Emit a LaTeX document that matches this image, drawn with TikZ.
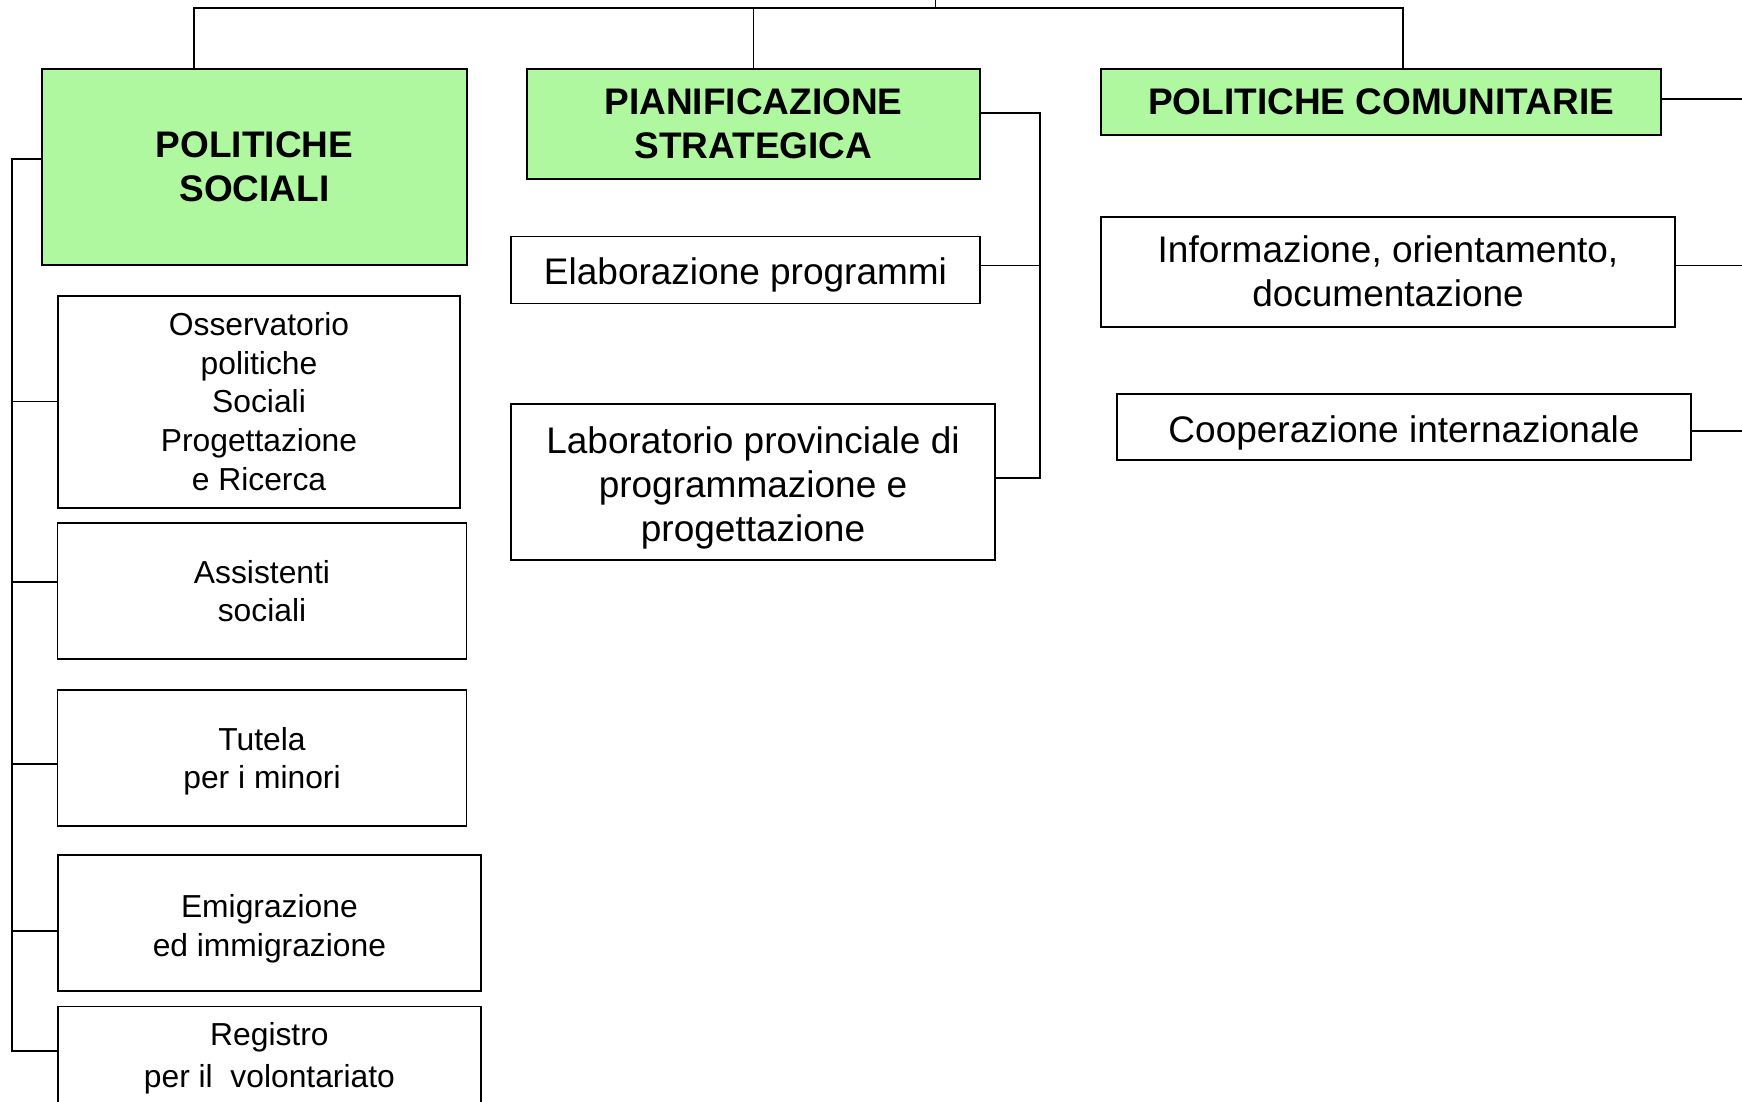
\documentclass[tikz,border=0pt]{standalone}
\usepackage{fontspec}
\setmainfont{Liberation Sans}
\usepackage{xcolor}
\usepackage{tikz}
\definecolor{headgreen}{RGB}{176,248,160}
\newcommand\strutto[1]{\rule{0pt}{#1}} % taller first line, pushes the text down
\tikzset{
  unit/.style={draw, line width=1.8pt, inner sep=0pt, align=center, font=\fontsize{37}{44}\selectfont},
  head/.style={unit, fill=headgreen, font=\fontsize{37}{44}\selectfont\bfseries},
  office/.style={unit, font=\fontsize{31.8}{38.6}\selectfont},
  link/.style={line width=1.6pt}
}

\begin{document}
\begin{tikzpicture}[x=1pt,y=-1pt]
        \useasboundingbox (0,0) rectangle (1742,1102); % page size of the reference
        % the three sectors
        \node[head, minimum width=425pt, minimum height=196pt] (sociali) at (254.5,167) {POLITICHE\\SOCIALI};
        \node[head, minimum width=453pt, minimum height=110pt] (pianif) at (753.5,124) {PIANIFICAZIONE\\STRATEGICA};
        \node[head, minimum width=560pt, minimum height=66pt] (comunit) at (1381,102) {POLITICHE COMUNITARIE};
        % offices
        \node[unit, minimum width=469pt, minimum height=67pt] (elab) at (745.5,270) {\strutto{36pt}Elaborazione programmi};
        \node[unit, minimum width=484pt, minimum height=156pt] (lab) at (753,482) {\strutto{38pt}Laboratorio provinciale di\\programmazione e\\progettazione};
        \node[unit, minimum width=574pt, minimum height=110pt] (info) at (1388,271.6) {Informazione, orientamento,\\documentazione};
        \node[unit, minimum width=574pt, minimum height=66pt] (coop) at (1404,427) {\strutto{38pt}Cooperazione internazionale};
        \node[office, minimum width=402pt, minimum height=212pt] (osserv) at (259,401.6) {Osservatorio\\politiche\\Sociali\\Progettazione\\e Ricerca};
        \node[office, minimum width=409pt, minimum height=136pt] (assist) at (262,591) {Assistenti\\sociali};
        \node[office, minimum width=409pt, minimum height=136pt] (tutela) at (262,757.7) {\strutto{30pt}Tutela\\per i minori};
        \node[office, minimum width=423pt, minimum height=136pt] (emigr) at (269.4,923) {\strutto{34pt}Emigrazione\\ed immigrazione};
        \node[office, minimum width=423pt, minimum height=103pt, font=\fontsize{31.8}{42}\selectfont] (registro) at (269.4,1058) {Registro\\per il\ \ volontariato};
        % bus lines
        \coordinate (root) at (935.5,0);
        \coordinate (top) at (935.5,8);
        \coordinate (sx) at (194,0);
        \coordinate (cx) at (1403,0);
        \coordinate (lbus) at (12,0);
        \coordinate (pbus) at (1040,0);
        \coordinate (cbus) at (1750,0); % runs off the page
        \draw[link] (root) -- (top);
        \draw[link] (sociali.north -| sx) |- (top) -| (comunit.north -| cx);
        \draw[link] (pianif.north) -- (pianif.north |- top);
        % left bus of the social offices
        \coordinate (sj) at ([yshift=8pt]sociali.west);
        \coordinate (rj) at ([yshift=7pt]registro.west);
        \draw[link] (sj) -- (sj -| lbus) -- (rj -| lbus) -- (rj);
        \foreach \n/\s in {osserv/0,assist/9,tutela/-6,emigr/-8}
        \draw[link] ([yshift=\s pt]\n.west) coordinate (j) -- (j -| lbus);
        % bus of the planning offices
        \coordinate (pj) at ([yshift=11pt]pianif.east);
        \coordinate (lj) at ([yshift=4pt]lab.east);
        \draw[link] (pj) -- (pj -| pbus) -- (lj -| pbus) -- (lj);
        \draw[link] ([yshift=4.5pt]elab.east) coordinate (ej) -- (ej -| pbus);
        % community offices
        \foreach \n/\s in {comunit/3,info/6,coop/-4}
        \draw[link] ([yshift=\s pt]\n.east) coordinate (j) -- (j -| cbus);
    \end{tikzpicture}
\end{document}
